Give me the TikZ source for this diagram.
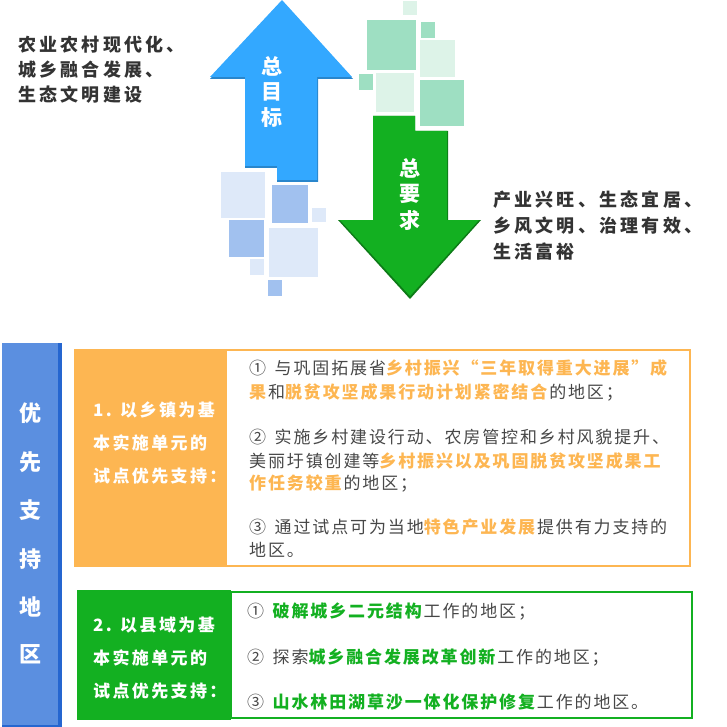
\documentclass[tikz,border=0pt]{standalone}
\usepackage{fontspec}
\setmainfont{Noto Sans CJK SC}
\definecolor{ublue}{HTML}{33A8FF}
\definecolor{dgreen}{HTML}{13B021}
\definecolor{lgsq}{HTML}{DDF3E8}
\definecolor{mgsq}{HTML}{9EDFC2}
\definecolor{lbsq}{HTML}{DEE9F9}
\definecolor{mbsq}{HTML}{A1C1EF}
\definecolor{sideblue}{HTML}{5B8FE0}
\definecolor{sidedark}{HTML}{2566D0}
\definecolor{orng}{HTML}{FDB652}
\definecolor{txt}{HTML}{333333}
\newcommand{\og}[1]{\textcolor{orng}{\textbf{#1}}}
\newcommand{\gr}[1]{\textcolor{dgreen}{\textbf{#1}}}
\tikzset{
 hd/.style={font=\fontsize{18}{20}\selectfont\bfseries\addfontfeature{LetterSpace=18}, text=txt, anchor=west, inner sep=0},
 bt/.style={font=\fontsize{17}{19}\selectfont\addfontfeature{LetterSpace=11}, text=txt!90, anchor=west, inner sep=0},
 wl/.style={font=\fontsize{17}{19}\selectfont\bfseries\addfontfeature{LetterSpace=14}, text=white, anchor=west, inner sep=0},
 side/.style={font=\fontsize{22}{24}\selectfont\bfseries, text=white, inner sep=0},
 arr/.style={font=\fontsize{21}{23}\selectfont\bfseries, text=white, inner sep=0},
}
\begin{document}
\begin{tikzpicture}[x=1pt,y=-1pt]
\useasboundingbox (0,0) rectangle (727,727);
% green squares
\fill[lgsq] (403,1) rectangle (417,15);
\fill[mgsq] (367,20) rectangle (416,70);
\fill[mgsq] (421,22) rectangle (435,38);
\fill[lgsq] (420,40) rectangle (455,77);
\fill[mgsq] (359,74) rectangle (373,90);
\fill[lgsq] (376,73) rectangle (414,112);
\fill[mgsq] (420,80) rectangle (464,126);
% blue squares
\fill[lbsq] (221,172) rectangle (265,218);
\fill[mbsq] (272,185) rectangle (308,223);
\fill[lbsq] (312,208) rectangle (326,222);
\fill[mbsq] (229,220) rectangle (264,257);
\fill[lbsq] (269,228) rectangle (318,277);
\fill[lbsq] (250,259) rectangle (264,275);
\fill[mbsq] (268,280) rectangle (282,296);
% up arrow
\fill[ublue!80!black] (282,1) -- (353,79) -- (318,79) -- (318,182) -- (277,182) -- (277,168) -- (245,168) -- (245,79) -- (210,79) -- cycle;
\fill[ublue] (282,0) -- (352,77) -- (317,77) -- (317,180) -- (277,180) -- (277,166) -- (245,166) -- (245,77) -- (210,77) -- cycle;
\node[arr] (g1) at (272,66) {总};
\node[arr] (g2) at (272,92) {目};
\node[arr] (g3) at (272,118) {标};
% down arrow
\fill[dgreen!70!black] (373,116) -- (415,116) -- (415,131) -- (448,131) -- (448,220) -- (481,220) -- (410,299) -- (338,220) -- (373,220) -- cycle;
\fill[dgreen] (373,116) -- (415,116) -- (415,131) -- (447,131) -- (447,220) -- (479,220) -- (410,296) -- (340,220) -- (373,220) -- cycle;
\node[arr] (r1) at (410,168) {总};
\node[arr] (r2) at (410,194) {要};
\node[arr] (r3) at (410,220) {求};
% top texts
\node[hd] (t1) at (18,45) {农业农村现代化、};
\node[hd] (t2) at (18,70) {城乡融合发展、};
\node[hd] (t3) at (18,95) {生态文明建设};
\node[hd] (u1) at (493,200) {产业兴旺、生态宜居、};
\node[hd] (u2) at (493,226) {乡风文明、治理有效、};
\node[hd] (u3) at (493,252) {生活富裕};
% side bar
\fill[sidedark] (2,343) rectangle (62,727);
\fill[sideblue] (2,343) rectangle (58,725);
\foreach \c/\y in {优/413,先/462,支/510,持/559,地/607,区/654}
  \node[side] at (30,\y) {\c};
% orange block
\fill[orng] (74,349) rectangle (226,567);
\draw[orng,line width=1.5] (226,350) rectangle (690,566);
\node[wl] (o1) at (93,410) {1. 以乡镇为基};
\node[wl] (o2) at (93,443) {本实施单元的};
\node[wl] (o3) at (93,476) {试点优先支持：};
\node[bt] (a1) at (249,368) {①\, 与巩固拓展省\og{乡村振兴“三年取得重大进展”成}};
\node[bt] (a2) at (249,392) {\og{果}和\og{脱贫攻坚成果行动计划紧密结合}的地区；};
\node[bt] (a3) at (249,437) {②\, 实施乡村建设行动、农房管控和乡村风貌提升、};
\node[bt] (a4) at (249,461) {美丽圩镇创建等\og{乡村振兴以及巩固脱贫攻坚成果工}};
\node[bt] (a5) at (249,484) {\og{作任务较重}的地区；};
\node[bt] (a6) at (249,527) {③\, 通过试点可为当地\og{特色产业发展}提供有力支持的};
\node[bt] (a7) at (249,550) {地区。};
% green block
\fill[dgreen] (77,590) rectangle (231,720);
\draw[dgreen,line width=1.5] (231,592) rectangle (692,718);
\node[wl] (p1) at (93,625) {2. 以县域为基};
\node[wl] (p2) at (93,658) {本实施单元的};
\node[wl] (p3) at (93,691) {试点优先支持：};
\node[bt] (b1) at (247,611) {①\, \gr{破解城乡二元结构}工作的地区；};
\node[bt] (b2) at (247,657) {②\, 探索\gr{城乡融合发展改革创新}工作的地区；};
\node[bt] (b3) at (247,702) {③\, \gr{山水林田湖草沙一体化保护修复}工作的地区。};
\end{tikzpicture}
\end{document}
